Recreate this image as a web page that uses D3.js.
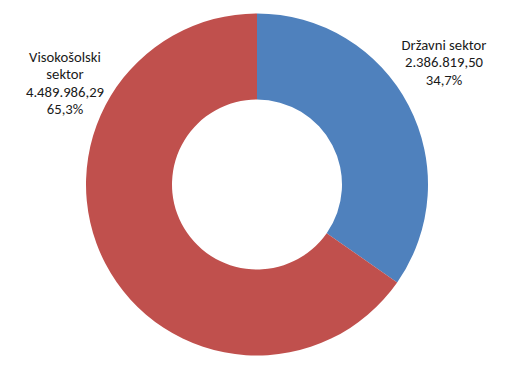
<!DOCTYPE html>
<html><head><meta charset="utf-8">
<script src="https://cdn.jsdelivr.net/npm/d3@7"></script>
<style>body{margin:0;background:#fff}svg{display:block}</style>
</head><body>
<script>
const categories = ["Državni sektor", "Visokošolski sektor"];
const values = [2386819.50, 4489986.29];
const valueLabels = ["2.386.819,50", "4.489.986,29"];
const percentLabels = ["34,7%", "65,3%"];
const colors = ["#4F81BD", "#C0504D"];
const labelLines = [["Državni sektor"], ["Visokošolski", "sektor"]];

const W = 514, H = 370;
const svg = d3.select("body").append("svg").attr("width", W).attr("height", H);
const cx = 257, cy = 184.5, R = 171, r = 85;
const pie = d3.pie().sort(null).value(d => d)(values);
const arc = d3.arc().innerRadius(r).outerRadius(R);
const g = svg.append("g").attr("transform", `translate(${cx},${cy})`);
g.selectAll("path").data(pie).join("path")
  .attr("d", arc).attr("fill", (d, i) => colors[i]);

const labelPos = [[444, 45], [65, 57]];
const lh = 17.3;
categories.forEach((c, i) => {
  const lines = [...labelLines[i], valueLabels[i], percentLabels[i]];
  const t = svg.append("text").attr("text-anchor", "middle")
    .attr("font-family", "Carlito, Calibri, 'Liberation Sans', sans-serif")
    .attr("font-size", 14.7).attr("fill", "#1a1a1a");
  lines.forEach((l, j) => {
    t.append("tspan").attr("x", labelPos[i][0]).attr("y", labelPos[i][1] + j * lh)
      .attr("dy", "0.35em").text(l);
  });
});
</script>
</body></html>
